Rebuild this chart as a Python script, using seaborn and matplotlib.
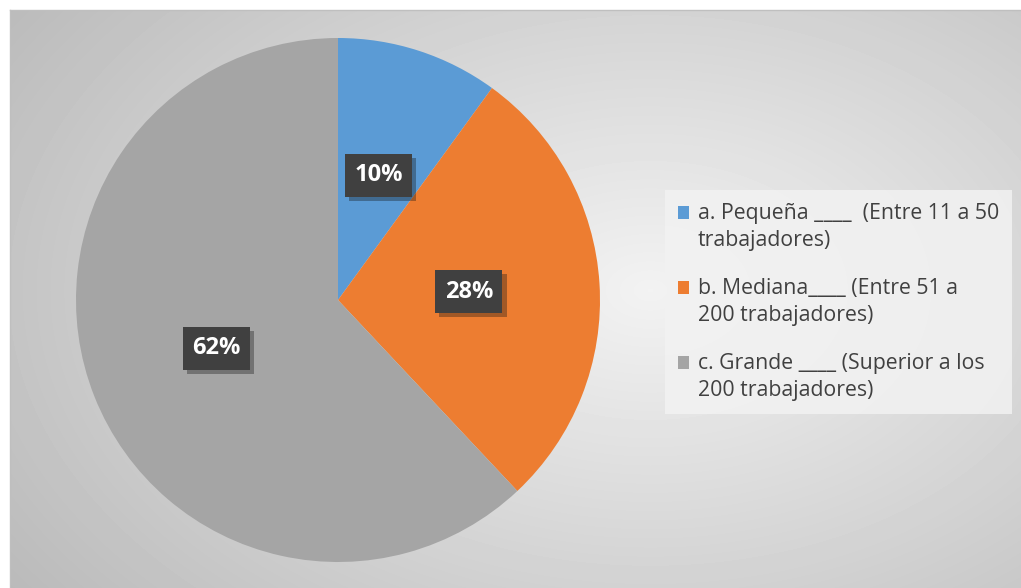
import numpy as np
import seaborn as sns
import matplotlib.pyplot as plt
from matplotlib import patheffects as pe

sns.set_theme(style="white")
plt.rcParams['font.family'] = ['Open Sans', 'DejaVu Sans']

# datos
categorias = ['a. Pequeña ____  (Entre 11 a 50\ntrabajadores)',
              'b. Mediana____ (Entre 51 a\n200 trabajadores)',
              'c. Grande ____ (Superior a los\n200 trabajadores)']
porcentajes = [10, 28, 62]
colores = ['#5B9BD5', '#ED7D31', '#A5A5A5']

W, H = 1021, 588
fig = plt.figure(figsize=(W / 100, H / 100), dpi=100)

# fondo degradado radial
bg = fig.add_axes([10 / W, 0, 1 - 10 / W, 1 - 10 / H])
yy, xx = np.mgrid[0:H - 10, 0:W - 10]
d = np.sqrt(((xx - 640) / 640) ** 2 + ((yy - 280) / 420) ** 2)
shade = 0.95 - 0.18 * np.clip(d, 0, 1.4)
bg.imshow(shade, cmap='gray', vmin=0, vmax=1, aspect='auto', interpolation='bilinear')
bg.set_xticks([])
bg.set_yticks([])
for s in ['right', 'bottom']:
    bg.spines[s].set_visible(False)
for s in ['top', 'left']:
    bg.spines[s].set_color('#BFBFBF')
    bg.spines[s].set_linewidth(1)

# pastel
cx, cy, r = 338, 300, 262
ax = fig.add_axes([(cx - r) / W, (H - cy - r) / H, 2 * r / W, 2 * r / H])
ax.set_facecolor('none')
wedges, texts, autotexts = ax.pie(porcentajes, colors=colores, startangle=90, counterclock=False,
                                  autopct='%1.0f%%', pctdistance=0.5,
                                  wedgeprops=dict(linewidth=0))
ax.set_xlim(-1, 1)
ax.set_ylim(-1, 1)
ax.set_aspect('auto')
ax.axis('off')

for t in autotexts:
    t.set_color('white')
    t.set_fontweight('bold')
    t.set_fontsize(17)
    t.set_bbox(dict(boxstyle='square,pad=0.4', facecolor='#404040', edgecolor='none'))
    t.get_bbox_patch().set_path_effects([pe.SimplePatchShadow(offset=(3, -3), alpha=0.35), pe.Normal()])

leg = fig.legend(wedges, categorias, loc='upper left', bbox_to_anchor=(665 / W, 1 - 190 / H),
                 frameon=True, fancybox=False, facecolor='#F2F2F2', edgecolor='none', framealpha=0.85,
                 fontsize=15.3, labelcolor='#404040', handlelength=0.55, handleheight=0.55,
                 handletextpad=0.4, labelspacing=1.25, borderpad=0.6, borderaxespad=0)
for t in leg.get_texts():
    t.set_linespacing(1.4)
# cuadrito alineado con la primera linea
for h in leg.legend_handles:
    h.set_y(h.get_y() + 10.5)

fig.savefig('out.png', dpi=100)
